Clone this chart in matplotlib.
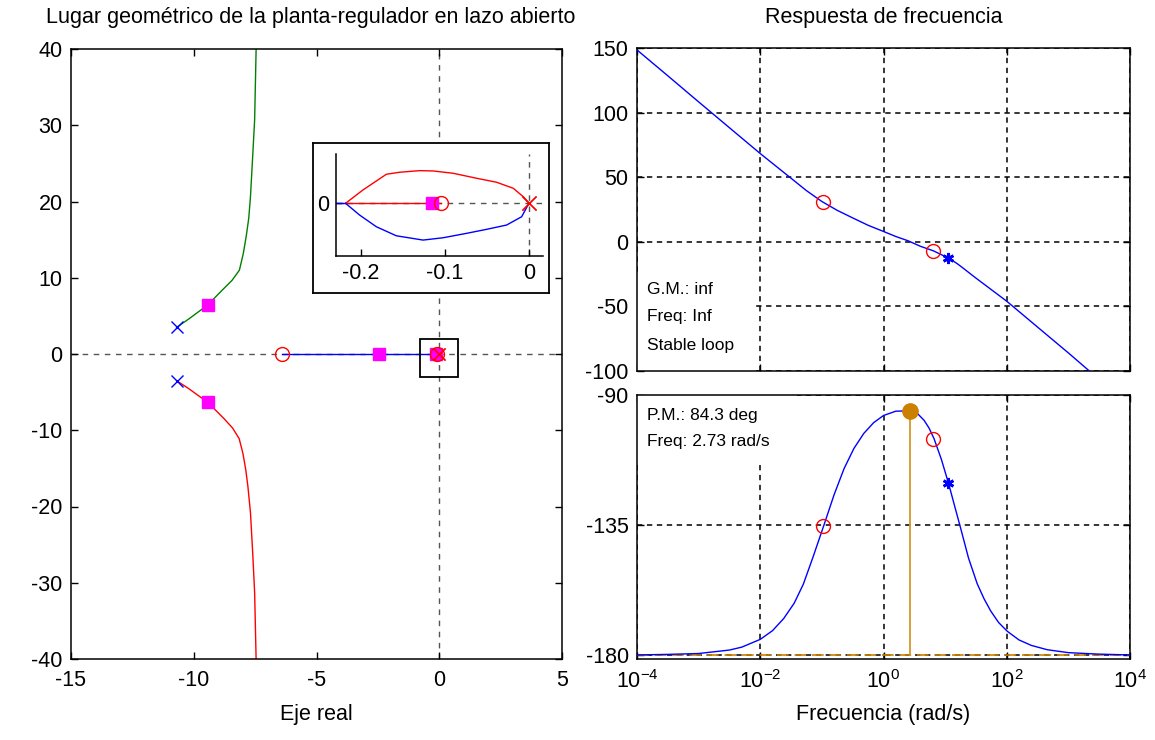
import numpy as np
import matplotlib
matplotlib.use("Agg")
import matplotlib.pyplot as plt
from matplotlib.patches import Rectangle

plt.rcParams['font.family'] = ['Liberation Sans', 'DejaVu Sans']
plt.rcParams['font.size'] = 15.5
plt.rcParams['mathtext.fontset'] = 'custom'
plt.rcParams['mathtext.rm'] = 'Liberation Sans'
plt.rcParams['mathtext.it'] = 'Liberation Sans:italic'
plt.rcParams['axes.unicode_minus'] = False
plt.rcParams['xtick.direction'] = 'in'
plt.rcParams['ytick.direction'] = 'in'

# ---------------- open-loop poles / zeros, closed-loop poles ----------------
pole_re = [-10.7, -10.7]
pole_im = [3.5, -3.5]
origin_pole_re = [0.0, 0.0]
origin_pole_im = [0.0, 0.0]
zero_re = [-6.4, -0.105]
zero_im = [0.0, 0.0]
cl_re = [-9.43, -9.43, -2.46, -0.115]
cl_im = [6.4, -6.3, 0.0, 0.0]

# ---------------- root locus branches ----------------
upper_re = [-10.70, -10.2, -9.73, -9.43, -9.12, -8.78, -8.44, -8.14, -7.98, -7.86, -7.76, -7.69,
            -7.60, -7.52, -7.46, -7.45]
upper_im = [3.5, 4.6, 5.72, 6.4, 7.46, 8.57, 9.66, 11.0, 13.2, 15.5, 17.8, 20.6,
            25.9, 30.7, 39.9, 45.0]
lower_re = [-10.70, -10.2, -9.75, -9.43, -9.10, -8.76, -8.42, -8.15, -8.00, -7.88, -7.79, -7.69,
            -7.60, -7.52, -7.46, -7.45]
lower_im = [-3.5, -4.55, -5.6, -6.3, -7.4, -8.5, -9.7, -11.1, -13.0, -15.2, -17.5, -20.8,
            -26.0, -31.3, -40.0, -45.0]
loop_up_re = [-0.2184, -0.1977, -0.1698, -0.1539, -0.1301, -0.1142, -0.0903, -0.0624, -0.0385, -0.0187, -0.0068, 0.0]
loop_up_im = [0.0, 0.0433, 0.0943, 0.1008, 0.1060, 0.1050, 0.0975, 0.0813, 0.0683, 0.0488, 0.0215, 0.0]
loop_lo_re = [-0.2184, -0.2017, -0.1817, -0.1579, -0.1261, -0.1023, -0.0744, -0.0505, -0.0266, -0.0087, 0.0]
loop_lo_im = [0.0, -0.0381, -0.0761, -0.1054, -0.1193, -0.1118, -0.0975, -0.0845, -0.0705, -0.0436, 0.0]
real_blue_re = [-6.4, -0.2184]
real_red_re = [-0.2184, -0.105]

# ---------------- frequency response ----------------
freq_mag = [1e-4, 3.16e-4, 1e-3, 3.16e-3, 1e-2, 3.16e-2, 5.62e-2, 0.1, 0.178, 0.316, 0.562,
            1.0, 1.585, 2.5, 3.98, 6.46, 8.9, 11.5, 15.8, 20.0, 29.5, 100.0, 316.0, 1000.0, 2190.0]
mag_db = [148.5, 128.5, 108.3, 88.3, 68.3, 49.2, 39.6, 31.2, 24.3, 18.5, 12.8,
          8.0, 4.1, 0.8, -3.5, -7.0, -10.2, -12.7, -17.0, -20.7, -27.0, -46.0, -66.0, -86.0, -100.0]
freq_ph = [1e-4, 3.16e-4, 1e-3, 3.16e-3, 5e-3, 1e-2, 1.58e-2, 2.4e-2, 3.55e-2, 5e-2, 7.08e-2,
           0.107, 0.158, 0.229, 0.331, 0.479, 0.69, 1.0, 1.585, 2.75, 3.63, 4.57, 5.5, 6.6,
           8.7, 11.5, 14.5, 17.8, 24.0, 33.1, 42.7, 55.0, 74.0, 102.0, 158.0, 251.0, 457.0,
           1000.0, 3000.0, 1e4]
phase_deg = [-180.0, -179.8, -179.5, -178.3, -177.3, -174.6, -171.6, -167.4, -162.1, -155.5, -146.5,
             -135.3, -124.5, -115.5, -108.5, -103.3, -99.6, -97.1, -95.6, -95.5, -96.6, -98.8, -101.5, -105.1,
             -112.3, -121.0, -129.0, -136.0, -146.5, -155.3, -160.5, -164.8, -168.8, -171.8, -174.8, -176.7, -178.2,
             -179.2, -179.7, -180.0]
zero_freq = [0.106, 6.46]
zero_mag = [30.8, -7.0]
zero_phase = [-135.5, -105.3]
cpole_freq = [11.26]
cpole_mag = [-12.3]
cpole_phase = [-120.5]
pm_deg = 84.3
pm_freq = 2.73
gm_text = "inf"
gm_freq_text = "Inf"

W, H = 1155, 740
fig = plt.figure(figsize=(W / 100, H / 100), dpi=100)


def box(l, t, r, b):
    return [l / W, 1 - b / H, (r - l) / W, (b - t) / H]


def style_frame(ax, lw=1.1):
    for s in ax.spines.values():
        s.set_linewidth(lw)
        s.set_color('black')
    ax.tick_params(which='both', top=True, right=True, length=5, width=1.0)
    ax.tick_params(axis='x', pad=8)
    ax.tick_params(axis='y', pad=6)


pm_color = '#cc8000'
mag_c = 'magenta'
asterisk = (6, 2, 0)

# ======================= root locus =======================
ax = fig.add_axes(box(71, 49, 562, 659))
style_frame(ax)
ax.set_xlim(-15, 5)
ax.set_ylim(-40, 40)
ax.set_xticks([-15, -10, -5, 0, 5])
ax.set_yticks(np.arange(-40, 41, 10))
ax.axhline(0, color='#555555', lw=1.0, ls=(0, (4, 4)), zorder=1)
ax.axvline(0, color='#555555', lw=1.0, ls=(0, (4, 4)), zorder=1)


def draw_locus(a):
    a.plot(upper_re, upper_im, color='#008000', lw=1.0, zorder=2)
    a.plot(lower_re, lower_im, color='red', lw=1.0, zorder=2)
    a.plot(real_blue_re, [0, 0], color='blue', lw=1.0, zorder=2)
    a.plot(real_red_re, [0, 0], color='red', lw=1.0, zorder=2)
    a.plot(loop_up_re, loop_up_im, color='red', lw=1.0, zorder=2)
    a.plot(loop_lo_re, loop_lo_im, color='blue', lw=1.0, zorder=2)


draw_locus(ax)
ax.plot(cl_re, cl_im, ls='none', marker='s', ms=9, color=mag_c, mec=mag_c, zorder=4)
ax.plot(pole_re, pole_im, ls='none', marker='x', ms=8, mew=1.0, color='blue', zorder=5)
ax.plot(origin_pole_re, origin_pole_im, ls='none', marker='x', ms=8, mew=1.0, color='red', zorder=5)
ax.plot(zero_re, zero_im, ls='none', marker='o', ms=10, mfc='none', mew=1.0, mec='red', zorder=5)
ax.add_patch(Rectangle((-0.78, -3.05), 1.56, 5.05, fill=False, ec='black', lw=1.3, zorder=6))
ax.set_xlabel('Eje real', labelpad=9)

# inset: zoom around the origin
frame = fig.add_axes(box(312.7, 143.3, 549.3, 293.3), zorder=5)
frame.set_xticks([])
frame.set_yticks([])
frame.set_facecolor('white')
for s in frame.spines.values():
    s.set_linewidth(1.3)

axi = fig.add_axes(box(336, 154, 543.3, 255.7), zorder=6)
axi.patch.set_alpha(0)
axi.set_xlim(-0.2298, 0.0171)
axi.set_ylim(-0.170, 0.160)
axi.spines['top'].set_visible(False)
axi.spines['right'].set_visible(False)
axi.spines['left'].set_linewidth(1.1)
axi.spines['bottom'].set_linewidth(1.1)
axi.set_xticks([-0.2, -0.1, 0])
axi.set_xticklabels(['-0.2', '-0.1', '0'])
axi.set_yticks([0])
axi.tick_params(length=5, width=1.0, pad=5)
axi.axhline(0, color='#555555', lw=1.0, ls=(0, (4, 4)), zorder=1)
axi.axvline(0, color='#555555', lw=1.0, ls=(0, (4, 4)), zorder=1)
draw_locus(axi)
axi.plot(cl_re, cl_im, ls='none', marker='s', ms=9, color=mag_c, mec=mag_c, zorder=4)
axi.plot(origin_pole_re, origin_pole_im, ls='none', marker='x', ms=10, mew=1.0, color='red', zorder=5)
axi.plot(zero_re, zero_im, ls='none', marker='o', ms=10, mfc='none', mew=1.0, mec='red', zorder=5)

fig.text(311 / W, 1 - 18 / H, 'Lugar geométrico de la planta-regulador en lazo abierto',
         ha='center', va='center')

# ======================= bode magnitude =======================
grid_kw = dict(color='black', lw=1.1, ls=(0, (3.5, 3)))
xt = [1e-4, 1e-2, 1, 1e2, 1e4]

axm = fig.add_axes(box(637, 48, 1130, 371))
style_frame(axm)
axm.set_xscale('log')
axm.set_xlim(1e-4, 1e4)
axm.set_ylim(-100, 150)
axm.set_xticks(xt)
axm.xaxis.set_minor_locator(matplotlib.ticker.NullLocator())
axm.set_xticklabels([])
axm.set_yticks(np.arange(-100, 151, 50))
axm.grid(True, which='major', **grid_kw)
axm.set_axisbelow(True)
axm.add_patch(Rectangle((0, 0), 0.235, 0.297, transform=axm.transAxes,
                        facecolor='white', edgecolor='none', zorder=1.5))
axm.plot(freq_mag, mag_db, color='blue', lw=1.0, zorder=3)
axm.plot(zero_freq, zero_mag, ls='none', marker='o', ms=10, mfc='none', mec='red', mew=1.0, zorder=4)
axm.plot(cpole_freq, cpole_mag, ls='none', marker=asterisk, ms=8, color='blue', mew=2.0, zorder=4)
for yf, s in [(0.251, f'G.M.: {gm_text}'), (0.168, f'Freq: {gm_freq_text}'), (0.080, 'Stable loop')]:
    axm.text(0.020, yf, s, transform=axm.transAxes, fontsize=12.5, va='center', ha='left', zorder=5)

fig.text(884 / W, 1 - 18 / H, 'Respuesta de frecuencia', ha='center', va='center')

# ======================= bode phase =======================
axp = fig.add_axes(box(637, 395, 1130, 659))
style_frame(axp)
axp.set_xscale('log')
axp.set_xlim(1e-4, 1e4)
axp.set_ylim(-181.4, -90)
axp.set_xticks(xt)
axp.xaxis.set_minor_locator(matplotlib.ticker.NullLocator())
axp.set_yticks([-180, -135, -90])
axp.grid(True, which='major', **grid_kw)
axp.set_axisbelow(True)
axp.add_patch(Rectangle((0, 0.735), 0.325, 0.265, transform=axp.transAxes,
                        facecolor='white', edgecolor='none', zorder=1.5))
axp.axhline(-180, color=pm_color, lw=1.2, ls=(0, (7, 3.5)), zorder=2.5)
axp.plot(freq_ph, phase_deg, color='blue', lw=1.0, zorder=3)
pm_phase = -180 + pm_deg
axp.plot([pm_freq, pm_freq], [-180, pm_phase], color='#d4962a', lw=1.3, zorder=3.5)
axp.plot([pm_freq], [pm_phase], ls='none', marker='o', ms=11, color=pm_color, zorder=4)
axp.plot(zero_freq, zero_phase, ls='none', marker='o', ms=10, mfc='none', mec='red', mew=1.0, zorder=4)
axp.plot(cpole_freq, cpole_phase, ls='none', marker=asterisk, ms=8, color='blue', mew=2.0, zorder=4)
axp.text(0.020, 0.924, f'P.M.: {pm_deg:.1f} deg', transform=axp.transAxes, fontsize=12.5,
         va='center', ha='left', zorder=5)
axp.text(0.020, 0.823, f'Freq: {pm_freq:.2f} rad/s', transform=axp.transAxes, fontsize=12.5,
         va='center', ha='left', zorder=5)
axp.set_xlabel('Frecuencia (rad/s)', labelpad=8)

fig.savefig('out.png', dpi=100)
